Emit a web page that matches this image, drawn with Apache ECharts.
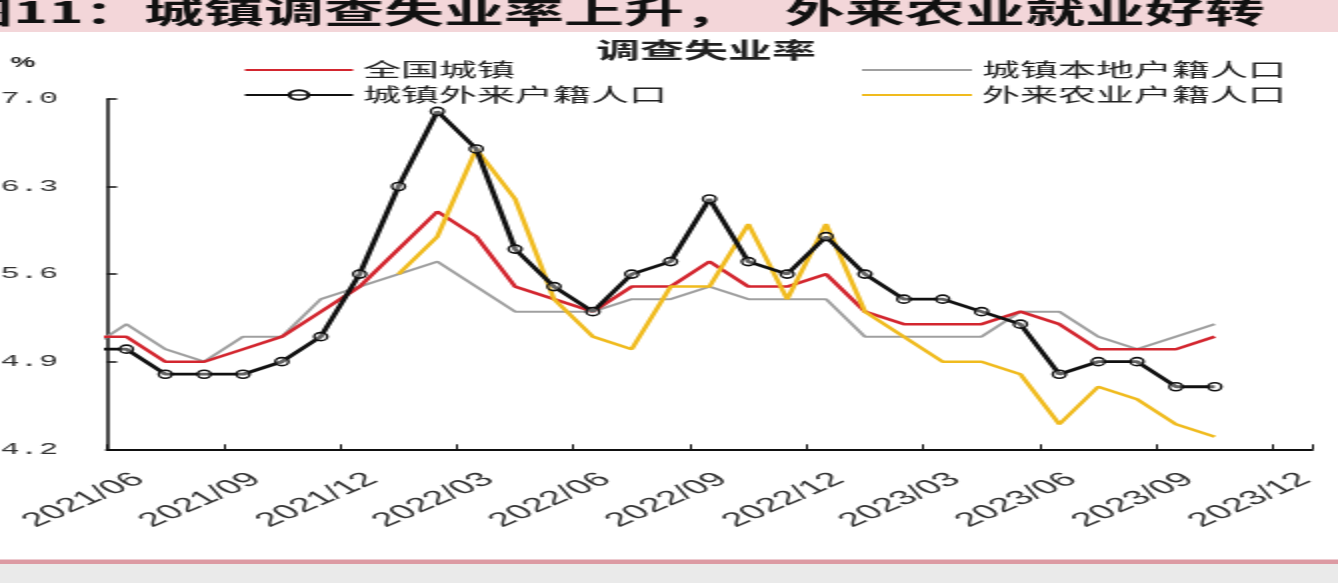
<!DOCTYPE html>
<html>
<head>
<meta charset="utf-8">
<script src="https://cdn.jsdelivr.net/npm/echarts@6.0.0/dist/echarts.min.js"></script>
<style>
  html, body { margin: 0; padding: 0; background: #fff; overflow: hidden; width: 1338px; height: 583px; }
  /* the chart is laid out at half width and stretched horizontally */
  #chart { position: absolute; left: 0; top: 0; width: 669px; height: 583px; transform: scaleX(2); transform-origin: 0 0; }
</style>
</head>
<body>
<div id="chart"></div>
<script>
// Monthly categories; the first month sits just left of the visible range
const months = [
  '2021/05', '2021/06', '2021/07', '2021/08', '2021/09', '2021/10', '2021/11', '2021/12',
  '2022/01', '2022/02', '2022/03', '2022/04', '2022/05', '2022/06', '2022/07', '2022/08',
  '2022/09', '2022/10', '2022/11', '2022/12', '2023/01', '2023/02', '2023/03', '2023/04',
  '2023/05', '2023/06', '2023/07', '2023/08', '2023/09', '2023/10', '2023/11', '2023/12'
];

const seriesNames = ['全国城镇', '城镇本地户籍人口', '城镇外来户籍人口', '外来农业户籍人口'];

// Surveyed unemployment rate, %
const nationalUrban = [5.1, 5.1, 4.9, 4.9, 5.0, 5.1, 5.3, 5.5, 5.8, 6.1, 5.9, 5.5, 5.4, 5.3, 5.5,
  5.5, 5.7, 5.5, 5.5, 5.6, 5.3, 5.2, 5.2, 5.2, 5.3, 5.2, 5.0, 5.0, 5.0, 5.1];
const localHukou = [5.0, 5.2, 5.0, 4.9, 5.1, 5.1, 5.4, 5.5, 5.6, 5.7, 5.5, 5.3, 5.3, 5.3, 5.4,
  5.4, 5.5, 5.4, 5.4, 5.4, 5.1, 5.1, 5.1, 5.1, 5.3, 5.3, 5.1, 5.0, 5.1, 5.2];
const migrantHukou = [5.0, 5.0, 4.8, 4.8, 4.8, 4.9, 5.1, 5.6, 6.3, 6.9, 6.6, 5.8, 5.5, 5.3, 5.6,
  5.7, 6.2, 5.7, 5.6, 5.9, 5.6, 5.4, 5.4, 5.3, 5.2, 4.8, 4.9, 4.9, 4.7, 4.7];
const migrantAgri = [null, null, null, null, null, null, null, null, 5.6, 5.9, 6.6, 6.2, 5.4, 5.1, 5.0,
  5.5, 5.5, 6.0, 5.4, 6.0, 5.3, 5.1, 4.9, 4.9, 4.8, 4.4, 4.7, 4.6, 4.4, 4.3];

const yMin = 4.2, yMax = 7.0, yStep = 0.7;

const headerLeft = '图11：城镇调查失业率上升，';
const headerRight = '外来农业就业好转';
const chartTitle = '调查失业率';
const unitLabel = '%';

// one label/tick every quarter, starting at 2021/06
const quarterly = (idx) => (idx - 1) % 3 === 0;

const chart = echarts.init(document.getElementById('chart'), null, { renderer: 'canvas' });

const legendText = { fontSize: 19, lineHeight: 19, fontFamily: '"Noto Sans CJK SC"', color: '#222' };
// plain line icon for the series drawn without markers
const lineOnly = (name) => ({ name: name, itemStyle: { opacity: 0 } });

chart.setOption({
  animation: false,
  backgroundColor: '#ffffff',
  title: {
    text: chartTitle,
    left: 298,
    top: 39,
    padding: 0,
    textStyle: { fontSize: 22, fontWeight: 'bold', fontFamily: '"Noto Sans CJK SC"', color: '#222' }
  },
  legend: [
    {
      orient: 'vertical', left: 121.5, top: 60.5, padding: 0,
      itemWidth: 54, itemHeight: 12, itemGap: 6,
      data: [lineOnly(seriesNames[0]), { name: seriesNames[2] }],
      textStyle: legendText
    },
    {
      orient: 'vertical', left: 430, top: 60.5, padding: 0,
      itemWidth: 55, itemHeight: 12, itemGap: 6,
      data: [lineOnly(seriesNames[1]), lineOnly(seriesNames[3])],
      textStyle: legendText
    }
  ],
  grid: { left: 53.5, top: 98.9, width: 602.5, height: 350.4, containLabel: false, outerBoundsMode: 'none' },
  xAxis: {
    type: 'category',
    data: months,
    boundaryGap: true,
    min: 1,
    axisLine: { lineStyle: { color: '#111', width: 2 } },
    axisTick: { show: true, inside: true, length: 5, interval: quarterly, lineStyle: { color: '#111', width: 1 } },
    axisLabel: {
      interval: quarterly, rotate: 40, margin: 20, verticalAlign: 'top',
      fontSize: 20, fontFamily: '"Liberation Sans"', color: '#333'
    },
    splitLine: { show: false }
  },
  yAxis: {
    type: 'value',
    min: yMin, max: yMax, interval: yStep,
    axisLine: { show: true, lineStyle: { color: '#111', width: 1.5 } },
    axisTick: { show: true, inside: true, length: 5, lineStyle: { color: '#111', width: 1.5 } },
    axisLabel: {
      margin: 24.5, fontSize: 16, fontFamily: '"Liberation Mono"', color: '#333',
      formatter: (v) => v.toFixed(1)
    },
    splitLine: { show: false }
  },
  series: [
    {
      name: seriesNames[1], type: 'line', data: localHukou, symbol: 'none',
      lineStyle: { color: '#a0a0a0', width: 2 }, itemStyle: { color: '#a0a0a0' }
    },
    {
      name: seriesNames[0], type: 'line', data: nationalUrban, symbol: 'none',
      lineStyle: { color: '#d3262f', width: 2.5 }, itemStyle: { color: '#d3262f' }
    },
    {
      name: seriesNames[3], type: 'line', data: migrantAgri, symbol: 'none',
      lineStyle: { color: '#f0bb1e', width: 2.5 }, itemStyle: { color: '#f0bb1e' }
    },
    {
      name: seriesNames[2], type: 'line', data: migrantHukou,
      symbol: 'circle', symbolSize: [6.5, 8], showSymbol: true,
      lineStyle: { color: '#111', width: 2.8 },
      itemStyle: { color: 'rgba(255,255,255,0.35)', borderColor: '#111', borderWidth: 1.5 }
    }
  ],
  graphic: [
    { type: 'rect', shape: { x: 0, y: 0, width: 669, height: 32 }, style: { fill: '#f3d6d9' }, z: -1 },
    {
      type: 'text', x: -23.5, y: 12,
      style: { text: headerLeft, font: 'bold 30px "Noto Sans CJK SC"', fill: '#111', verticalAlign: 'middle' }
    },
    {
      type: 'text', x: 392.5, y: 12,
      style: { text: headerRight, font: 'bold 30px "Noto Sans CJK SC"', fill: '#111', verticalAlign: 'middle' }
    },
    {
      type: 'text', x: 11.5, y: 63,
      style: { text: unitLabel, font: 'bold 14px "Liberation Sans"', fill: '#222', align: 'center', verticalAlign: 'middle' }
    },
    { type: 'rect', shape: { x: 0, y: 559.5, width: 669, height: 4.5 }, style: { fill: '#dc9aa3' } },
    { type: 'rect', shape: { x: 0, y: 564, width: 669, height: 19 }, style: { fill: '#eaeaea' } }
  ]
});
</script>
</body>
</html>
